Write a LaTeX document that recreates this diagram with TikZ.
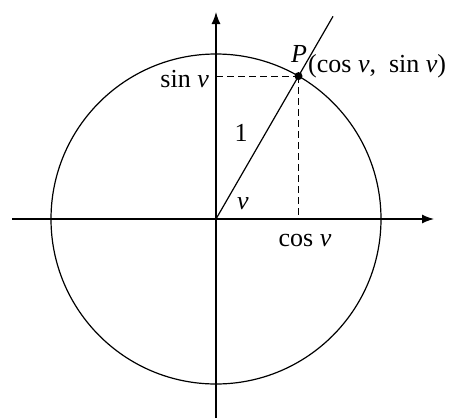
\documentclass[tikz,border=0pt]{standalone}
\usepackage{fontspec}
\setmainfont{Liberation Serif}
\usetikzlibrary{arrows.meta,calc}
\begin{document}
\begin{tikzpicture}[x=1pt,y=-1pt,
  axis/.style={line width=1.3pt,-{Latex[length=12pt,width=9pt]}},
  curve/.style={line width=1.2pt},
  guide/.style={line width=1.2pt,dash pattern=on 7pt off 4pt},
  lbl/.style={inner sep=0pt,font=\fontsize{26}{30}\selectfont}]
\useasboundingbox (0,0) rectangle (452,418);
\coordinate (O) at (216,219);
\coordinate (xs) at (12,219);
\coordinate (xe) at (434,219);
\coordinate (ys) at (216,418);
\coordinate (ye) at (216,12);
\coordinate (P) at ($(O)+(-60:165)$);
\coordinate (R) at ($(O)+(-60:234)$);
\coordinate (Sy) at (O |- P);
\coordinate (Cx) at (P |- O);
\draw[curve] (O) circle[radius=165];
\draw[axis] (xs) -- (xe);
\draw[axis] (ys) -- (ye);
\draw[curve] (O) -- (R);
\draw[guide] (Sy) -- (P);
\draw[guide] (P) -- (Cx);
\fill (P) circle[radius=4];
\node[lbl,anchor=east] (sinv) at (209,79) {sin \textit{v}};
\node[lbl] (Plbl) at (299,54) {\textit{P}};
\node[lbl,anchor=west] (coord) at (308,66) {(cos \textit{v}, \ sin \textit{v})};
\node[lbl] (one) at (241,133) {1};
\node[lbl] (ang) at (243,204) {\textit{v}};
\node[lbl] (cosv) at (305,240) {cos \textit{v}};
\end{tikzpicture}
\end{document}
